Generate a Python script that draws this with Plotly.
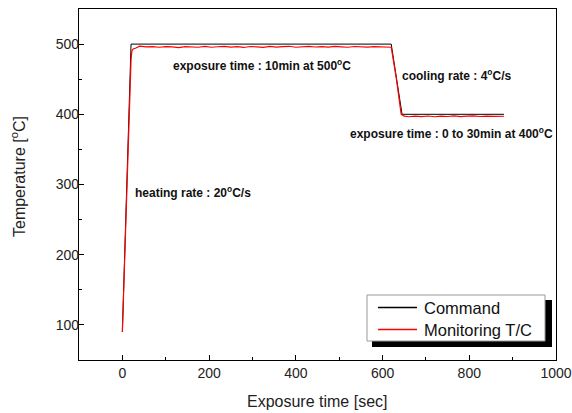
import plotly.graph_objects as go

command_t = [0, 20, 620, 645, 880]
command_T = [90, 500, 500, 400, 400]

monitor_t = [0, 10, 20, 22, 25, 30, 40, 55, 70, 85, 100, 115, 130, 145, 160, 175, 190,
             205, 220, 235, 250, 265, 280, 295, 310, 325, 340, 355, 370, 385, 400, 415,
             430, 445, 460, 475, 490, 505, 520, 535, 550, 565, 580, 595, 610, 620, 632,
             643, 650, 660, 675, 690, 705, 720, 735, 750, 765, 780, 795, 810, 825, 840,
             855, 870, 880]
monitor_T = [90, 290, 478, 490, 493, 494, 497, 496, 496.5, 495.5, 496.5, 496, 495, 496.5,
             496, 495.5, 496.8, 495.5, 496.2, 496.8, 495.6, 496.4, 495.2, 496.6, 496, 495.4,
             496.7, 495.8, 496.3, 496.9, 495.5, 496.2, 496.8, 495.9, 496.4, 495.6, 496.7,
             496.1, 495.5, 496.6, 496.2, 495.7, 496.5, 496, 496.3, 495.5, 450,
             400, 397.5, 396.5, 397.5, 396.8, 397.6, 396.5, 397.4, 396.9, 397.7, 396.6,
             397.3, 397.8, 396.9, 397.5, 397, 397.6, 397.2]

series_names = ["Command", "Monitoring T/C"]
series_colors = ["#000000", "#ff0000"]

x_ticks = [0, 200, 400, 600, 800, 1000]
y_ticks = [100, 200, 300, 400, 500]

FONT = "Arial, Liberation Sans, sans-serif"
L, R, T, B = 79, 556, 9, 360
PW, PH = R - L, B - T


def px(x):
    return (x - L) / PW


def py(y):
    return (B - y) / PH


fig = go.Figure()
fig.add_trace(go.Scatter(x=command_t, y=command_T, mode="lines", name=series_names[0],
                         line=dict(color=series_colors[0], width=1)))
fig.add_trace(go.Scatter(x=monitor_t, y=monitor_T, mode="lines", name=series_names[1],
                         line=dict(color=series_colors[1], width=1.2)))

ann_font = dict(family=FONT, size=12, color="#111")
annotations = [
    dict(x=171, y=65, text="<b>exposure time : 10min at 500<sup>o</sup>C</b>"),
    dict(x=400, y=75, text="<b>cooling rate : 4<sup>o</sup>C/s</b>"),
    dict(x=348, y=133, text="<b>exposure time : 0 to 30min at 400<sup>o</sup>C</b>"),
    dict(x=133, y=192, text="<b>heating rate : 20<sup>o</sup>C/s</b>"),
]
for a in annotations:
    fig.add_annotation(x=px(a["x"]), y=py(a["y"]), xref="paper", yref="paper",
                       text=a["text"], showarrow=False, xanchor="left", yanchor="middle",
                       font=ann_font)

# axis titles
title_font = dict(family=FONT, size=16, color="#222")
fig.add_annotation(x=px(317), y=py(401), xref="paper", yref="paper", text="Exposure time [sec]",
                   showarrow=False, xanchor="center", yanchor="middle", font=title_font)
fig.add_annotation(x=px(18), y=py(176), xref="paper", yref="paper", text="Temperature [<sup>o</sup>C]",
                   showarrow=False, xanchor="center", yanchor="middle", textangle=-90, font=title_font)

# legend box (shadow + frame)
fig.add_shape(type="rect", xref="paper", yref="paper",
              x0=px(372), x1=px(552), y0=py(347), y1=py(300),
              fillcolor="black", line=dict(width=0), layer="above")
fig.add_shape(type="rect", xref="paper", yref="paper",
              x0=px(367), x1=px(545), y0=py(341), y1=py(295),
              fillcolor="white", line=dict(color="#999", width=1), layer="above")
legend_rows = [307.5, 329.5]
for name, color, ry in zip(series_names, series_colors, legend_rows):
    fig.add_shape(type="line", xref="paper", yref="paper",
                  x0=px(378), x1=px(417), y0=py(ry), y1=py(ry),
                  line=dict(color=color, width=1.3), layer="above")
    fig.add_annotation(x=px(422), y=py(ry), xref="paper", yref="paper", text=name,
                       showarrow=False, xanchor="left", yanchor="middle",
                       font=dict(family=FONT, size=16.5, color="#111"))

axis_common = dict(showline=True, linecolor="black", linewidth=1.3, mirror=True,
                   ticks="inside", ticklen=5, tickwidth=1, tickcolor="black",
                   showgrid=False, zeroline=False, automargin=False,
                   tickfont=dict(family=FONT, size=14, color="#222"),
                   minor=dict(ticks="inside", ticklen=3, tickwidth=1, tickcolor="black"))

fig.update_layout(
    width=572, height=413,
    margin=dict(l=L, r=572 - R, t=T, b=413 - B, autoexpand=False),
    paper_bgcolor="white", plot_bgcolor="white",
    font=dict(family=FONT, color="#222"),
    xaxis=dict(range=[-100, 1000], tickvals=x_ticks, **axis_common),
    yaxis=dict(range=[50, 550], tickvals=y_ticks, ticklabelstandoff=-4, **axis_common),
    showlegend=False,
)
fig.update_xaxes(minor=dict(dtick=100, tick0=0))
fig.update_yaxes(minor=dict(dtick=50, tick0=0))

fig.write_html("out.html", config={"displayModeBar": False},
               post_script="document.body.style.margin='0';")
